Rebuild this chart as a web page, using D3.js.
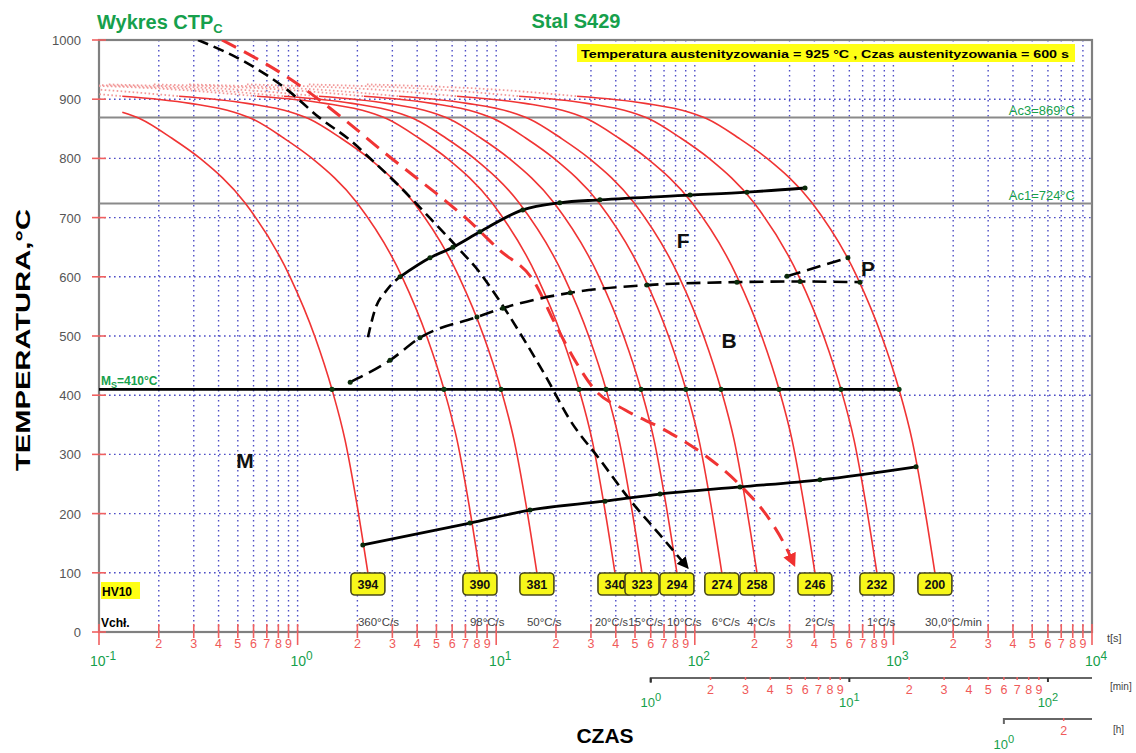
<!DOCTYPE html>
<html><head><meta charset="utf-8">
<script src="https://cdn.jsdelivr.net/npm/d3@7"></script>
<style>
body{margin:0;background:#fff}
svg{display:block}
text{font-family:"Liberation Sans",Arial,sans-serif}
</style>
</head><body>
<svg id="c" width="1136" height="753"></svg>
<script>
// ---------------- DATA ----------------
// temperature levels (°C) at which each cooling curve's time (s) was read
const tempLevels = [925, 915, 905, 893, 878, 867, 834, 800, 725, 600, 498, 410, 324, 215, 100];
const curveTimes = [
  [null,null,null,null,0.131,0.161,0.233,0.323,0.543,0.916,1.225,1.489,1.734,1.991,2.259],
  [0.0114,0.0579,0.131,0.287,0.479,0.589,0.855,1.183,1.991,3.357,4.487,5.458,6.353,7.295,8.279],
  [0.0221,0.112,0.253,0.556,0.927,1.140,1.656,2.291,3.855,6.501,8.690,10.57,12.30,14.13,16.03],
  [0.0547,0.277,0.625,1.374,2.291,2.818,4.093,5.662,9.528,16.07,21.48,26.12,30.41,34.91,39.63],
  [0.0748,0.379,0.855,1.879,3.133,3.855,5.598,7.745,13.03,21.98,29.38,35.73,41.59,47.75,54.20],
  [0.112,0.569,1.282,2.818,4.699,5.781,8.395,11.61,19.54,32.96,44.06,53.58,62.37,71.61,81.28],
  [0.189,0.957,2.158,4.742,7.907,9.727,14.13,19.54,32.89,55.46,74.13,90.16,105.0,120.5,136.8],
  [0.284,1.439,3.243,7.129,11.89,14.62,21.23,29.38,49.43,83.37,111.4,135.5,157.8,181.1,205.6],
  [0.556,2.818,6.353,13.96,23.28,28.64,41.59,57.54,96.83,163.3,218.3,265.5,309.0,354.8,402.7],
  [1.140,5.781,13.03,28.64,47.75,58.75,85.31,118.0,198.6,335.0,447.7,544.5,633.9,727.8,826.0],
  [2.234,11.32,25.53,56.10,93.54,115.1,167.1,231.2,389.0,656.1,877.0,1067,1242,1426,1618]
];
const hardnessHV10 = [394, 390, 381, 340, 323, 294, 274, 258, 246, 232, 200];
const coolingRates = ["360°C/s","98°C/s","50°C/s","20°C/s","15°C/s","10°C/s","6°C/s","4°C/s","2°C/s","1°C/s","30,0°C/min"];

const Ac3 = 869, Ac1 = 724, Ms = 410;

// transformation lines [time s, temp °C]
const ferriteArc   = [[2.26,498],[2.45,544],[2.82,578],[3.28,600]];
const ferriteStart = [[3.28,600],[4.64,632],[6.05,650],[8.28,676],[13.6,713],[20.9,725],[33.3,730],[94.6,738],[183,743],[359,750]];
const bainiteStart = [[1.84,422],[2.92,459],[4.13,497],[8.00,532],[10.8,547],[23.6,573],[57.4,586],[163,591],[339,592],[679,591]];
const pearliteStart = [[291,601],[590,632]];
const lowerLine    = [[2.13,147],[7.38,184],[14.8,206],[35.3,221],[66.8,233],[169,245],[427,257],[1300,279]];
const criticalBlack = [[0.315,1000],[0.543,963],[0.864,919],[1.297,868],[1.836,831],[2.370,797],[3.278,752],[4.642,699],[6.573,645],[8.099,611],[10.09,566],[13.18,505],[17.61,434],[23.53,358],[33.32,291],[47.18,223],[66.8,164],[92.4,108]];
const criticalRed   = [[0.416,1000],[0.938,932],[1.73,865],[2.75,809],[3.90,769],[5.71,725],[7.21,696],[10.4,645],[15.3,595],[20.2,515],[24.9,459],[31.4,409],[44.6,375],[70.8,341],[112,299],[169,248],[239,189],[284,147],[318,112]];

const phaseLabels = [["F",87.3,649],["B",148.6,480],["P",745,601],["M",0.543,277]];
const tempTicks = [0,100,200,300,400,500,600,700,800,900,1000];
const minuteDecades = [1,10,100];
const hourDecades = [1];

// ---------------- SCALES ----------------
const x = d3.scaleLog().domain([0.1, 1e4]).range([99, 1092]);
const y = d3.scaleLinear().domain([0, 1000]).range([632, 40]);
const svg = d3.select("#c");
const defs = svg.append("defs");
defs.append("clipPath").attr("id","pc").append("rect")
  .attr("x",99).attr("y",40).attr("width",993).attr("height",592);
function marker(id, color){
  defs.append("marker").attr("id",id).attr("viewBox","0 0 10 10")
    .attr("refX",9).attr("refY",5).attr("markerWidth",4.5).attr("markerHeight",4.5)
    .attr("orient","auto").append("path").attr("d","M0,0L10,5L0,10z").attr("fill",color);
}
marker("arrK","#000"); marker("arrR","#f03030");

const GREEN = "#16a04c", RED = "#f03434", GRID = "#4d4dc6", GRAY = "#808080";
const line = d3.line().x(d=>x(d[0])).y(d=>y(d[1])).curve(d3.curveMonotoneX);
const linLine = d3.line().x(d=>x(d[0])).y(d=>y(d[1]));

// ---------------- GRID ----------------
const logTicks = [];
for (let d=-1; d<=3; d++) for (let k=1; k<=9; k++) logTicks.push(k*Math.pow(10,d));
logTicks.push(1e4);
const isDecade = d => Math.abs(Math.log10(d)-Math.round(Math.log10(d)))<1e-9;
const g = svg.append("g");
g.selectAll("line.vg").data(logTicks.filter(t=>t>0.1 && t<1e4)).join("line")
  .attr("x1",d=>x(d)).attr("x2",d=>x(d)).attr("y1",y(1000)).attr("y2",y(0))
  .attr("stroke",GRID).attr("stroke-width",1.4).attr("stroke-dasharray","1.6,3.4");
g.selectAll("line.hg").data(tempTicks.filter(t=>t>0 && t<1000)).join("line")
  .attr("x1",x(0.1)).attr("x2",x(1e4)).attr("y1",d=>y(d)).attr("y2",d=>y(d))
  .attr("stroke",GRID).attr("stroke-width",1.4).attr("stroke-dasharray","1.6,3.4");

svg.append("rect").attr("x",99).attr("y",40).attr("width",993).attr("height",592)
  .attr("fill","none").attr("stroke",GRAY).attr("stroke-width",2.2);

[Ac3, Ac1].forEach(v=>{
  svg.append("line").attr("x1",x(0.1)).attr("x2",x(1e4)).attr("y1",y(v)).attr("y2",y(v))
    .attr("stroke","#8a8a8a").attr("stroke-width",2);
});
svg.append("text").attr("x",x(8200)).attr("y",y(Ac3)-3).attr("text-anchor","end")
  .attr("fill",GREEN).attr("font-size",12).attr("textLength",66).attr("lengthAdjust","spacingAndGlyphs")
  .text("Ac3="+Ac3+"°C");
svg.append("text").attr("x",x(8200)).attr("y",y(Ac1)-3).attr("text-anchor","end")
  .attr("fill",GREEN).attr("font-size",12).attr("textLength",66).attr("lengthAdjust","spacingAndGlyphs")
  .text("Ac1="+Ac1+"°C");

// ---------------- AXES ----------------
svg.selectAll("line.yt").data(tempTicks).join("line")
  .attr("x1",92).attr("x2",106).attr("y1",d=>y(d)).attr("y2",d=>y(d))
  .attr("stroke","#f06060").attr("stroke-width",1.6);
svg.selectAll("text.yl").data(tempTicks).join("text")
  .attr("x",81).attr("y",d=>y(d)+5).attr("text-anchor","end")
  .attr("font-size",13).attr("fill","#555").text(d=>d);

svg.selectAll("line.xt").data(logTicks).join("line")
  .attr("x1",d=>x(d)).attr("x2",d=>x(d)).attr("y1",624)
  .attr("y2",d=>isDecade(d)?645:638)
  .attr("stroke","#f06060").attr("stroke-width",1.6);
svg.selectAll("text.xd").data(logTicks.filter(d=>!isDecade(d))).join("text")
  .attr("x",d=>x(d)).attr("y",648).attr("text-anchor","middle")
  .attr("font-size",12.5).attr("fill","#f05a5a")
  .text(d=>Math.round(d/Math.pow(10,Math.floor(Math.log10(d)+1e-9))));
function decadeLabel(px, py, exp, size){
  const t = svg.append("text").attr("x",px).attr("y",py).attr("text-anchor","middle")
    .attr("fill",GREEN).attr("font-size",size);
  t.append("tspan").text("10");
  t.append("tspan").attr("dy",-6).attr("font-size",size*0.85).text(exp);
}
[-1,0,1,2,3,4].forEach(e=>decadeLabel(x(Math.pow(10,e))+4, 666, e, 14));
svg.append("text").attr("x",1107).attr("y",642).attr("font-size",11).attr("fill","#444").text("t[s]");

const minY = 678;
svg.append("path").attr("d",`M${x(60)},${minY+5}V${minY}H${x(1e4)}`)
  .attr("fill","none").attr("stroke","#666").attr("stroke-width",2);
minuteDecades.forEach(m=>{
  svg.append("line").attr("x1",x(m*60)).attr("x2",x(m*60)).attr("y1",minY).attr("y2",minY+4)
    .attr("stroke","#333").attr("stroke-width",2);
  decadeLabel(x(m*60), 707, Math.round(Math.log10(m)), 13);
  if (m < 100) for (let k=2;k<=9;k++){
    const v = k*m*60;
    svg.append("line").attr("x1",x(v)).attr("x2",x(v)).attr("y1",minY-1).attr("y2",minY+2)
      .attr("stroke","#f06060").attr("stroke-width",1.5);
    svg.append("text").attr("x",x(v)).attr("y",minY+16).attr("text-anchor","middle")
      .attr("font-size",12.5).attr("fill","#f05a5a").text(k);
  }
});
svg.append("text").attr("x",1110).attr("y",690).attr("font-size",10).attr("fill","#444").text("[min]");

const hY = 719;
svg.append("path").attr("d",`M${x(3600)},${hY+5}V${hY}H${x(1e4)}`)
  .attr("fill","none").attr("stroke","#666").attr("stroke-width",2);
hourDecades.forEach(h=>{
  decadeLabel(x(h*3600), 749, 0, 13);
  svg.append("line").attr("x1",x(2*h*3600)).attr("x2",x(2*h*3600)).attr("y1",hY-1).attr("y2",hY+2)
    .attr("stroke","#f06060").attr("stroke-width",1.5);
  svg.append("text").attr("x",x(2*h*3600)).attr("y",hY+16).attr("text-anchor","middle")
    .attr("font-size",12.5).attr("fill","#f05a5a").text(2);
});
svg.append("text").attr("x",1113).attr("y",733).attr("font-size",10).attr("fill","#444").text("[h]");

svg.append("text").attr("transform","translate(30,340) rotate(-90)").attr("text-anchor","middle")
  .attr("font-size",21).attr("font-weight","bold").attr("textLength",262).attr("lengthAdjust","spacingAndGlyphs")
  .text("TEMPERATURA,°C");
svg.append("text").attr("x",605).attr("y",743).attr("text-anchor","middle")
  .attr("font-size",21).attr("font-weight","bold").text("CZAS");

const tt = svg.append("text").attr("x",97).attr("y",29).attr("fill",GREEN)
  .attr("font-size",20).attr("font-weight","bold");
tt.append("tspan").text("Wykres CTP");
tt.append("tspan").attr("dy",4).attr("font-size",13).text("C");
svg.append("text").attr("x",576).attr("y",28).attr("text-anchor","middle").attr("fill",GREEN)
  .attr("font-size",20).attr("font-weight","bold").text("Stal S429");
svg.append("rect").attr("x",577).attr("y",44).attr("width",498).attr("height",18).attr("fill","#ffff14");
svg.append("text").attr("x",581).attr("y",57.5).attr("font-size",11.5).attr("font-weight","bold")
  .attr("textLength",488).attr("lengthAdjust","spacingAndGlyphs")
  .text("Temperatura austenityzowania = 925 °C , Czas austenityzowania = 600 s");

// ---------------- CURVES ----------------
const plot = svg.append("g").attr("clip-path","url(#pc)");
curveTimes.forEach((times)=>{
  const pts = tempLevels.map((T,i)=>[times[i],T]).filter(p=>p[0]!=null);
  const dotted = pts.filter(p=>p[1]>=905);
  const solid = pts.filter(p=>p[1]<=905);
  if (dotted.length>1) plot.append("path").attr("d",line(dotted)).attr("fill","none")
    .attr("stroke","#f29a9a").attr("stroke-width",1.8).attr("stroke-dasharray","1.6,2.4");
  plot.append("path").attr("d",line(solid)).attr("fill","none")
    .attr("stroke",RED).attr("stroke-width",1.6);
});

plot.append("path").attr("d",line(criticalRed)).attr("fill","none")
  .attr("stroke",RED).attr("stroke-width",3).attr("stroke-dasharray","16,9")
  .attr("marker-end","url(#arrR)");
plot.append("path").attr("d",line(criticalBlack)).attr("fill","none")
  .attr("stroke","#000").attr("stroke-width",2.6).attr("stroke-dasharray","11,6")
  .attr("marker-end","url(#arrK)");

const msEnd = curveTimes[curveTimes.length-1][tempLevels.indexOf(Ms)];
plot.append("path").attr("d",linLine([[0.1,Ms],[msEnd,Ms]])).attr("stroke","#000").attr("stroke-width",2.8);
svg.selectAll("circle.ms").data(curveTimes.map(c=>c[tempLevels.indexOf(Ms)])).join("circle")
  .attr("cx",d=>x(d)).attr("cy",y(Ms)).attr("r",2.6).attr("fill","#0b3b12");
const msl = svg.append("text").attr("x",101).attr("y",y(Ms)-4).attr("fill",GREEN)
  .attr("font-size",12).attr("font-weight","bold");
msl.append("tspan").text("M");
msl.append("tspan").attr("dy",3).attr("font-size",9).text("S");
msl.append("tspan").attr("dy",-3).text("="+Ms+"°C");

plot.append("path").attr("d",line(ferriteArc)).attr("fill","none")
  .attr("stroke","#000").attr("stroke-width",2.6).attr("stroke-dasharray","10,6");
plot.append("path").attr("d",line(ferriteStart)).attr("fill","none")
  .attr("stroke","#000").attr("stroke-width",2.8);
plot.append("path").attr("d",line(bainiteStart)).attr("fill","none")
  .attr("stroke","#000").attr("stroke-width",2.6).attr("stroke-dasharray","14,7");
plot.append("path").attr("d",line(pearliteStart)).attr("fill","none")
  .attr("stroke","#000").attr("stroke-width",2.6).attr("stroke-dasharray","14,7");
plot.append("path").attr("d",line(lowerLine)).attr("fill","none")
  .attr("stroke","#000").attr("stroke-width",2.8);

[ferriteStart, bainiteStart, pearliteStart, lowerLine].forEach(arr=>{
  svg.selectAll(null).data(arr).join("circle")
    .attr("cx",d=>x(d[0])).attr("cy",d=>y(d[1])).attr("r",2.5).attr("fill","#0b2b0b");
});

svg.selectAll("text.ph").data(phaseLabels).join("text")
  .attr("x",d=>x(d[1])).attr("y",d=>y(d[2])).attr("text-anchor","middle")
  .attr("font-size",21).attr("font-weight","bold").attr("fill","#111").text(d=>d[0]);

// ---------------- HARDNESS BOXES & RATES ----------------
const endTimes = curveTimes.map(c=>c[c.length-1]);
const boxes = svg.append("g");
const rateG = svg.append("g");
endTimes.forEach((t,i)=>{
  const cx = x(t);
  boxes.append("rect").attr("x",cx-17).attr("y",573).attr("width",34).attr("height",22).attr("rx",4)
    .attr("fill","#f7f71a").attr("stroke","#4a4a1a").attr("stroke-width",1.6);
  boxes.append("text").attr("x",cx).attr("y",589).attr("text-anchor","middle")
    .attr("font-size",12.5).attr("font-weight","bold").attr("fill","#111").text(hardnessHV10[i]);
  let fs = 11.5, sx = cx - 10;
  const tx = rateG.append("text").attr("x",sx).attr("y",626).attr("font-size",fs).attr("fill","#444")
    .text(coolingRates[i]);
  if (i < endTimes.length-1){
    const nextStart = x(endTimes[i+1]) - 10;
    let w = tx.node().getComputedTextLength();
    let room = nextStart - 4 - sx;
    if (w > room){
      const shift = Math.min(w - room, 10);
      sx -= shift; room += shift;
      tx.attr("x", sx);
      if (w > room){ fs = fs * room / w; tx.attr("font-size", fs); }
    }
  }
});
svg.append("rect").attr("x",101).attr("y",582).attr("width",39).attr("height",17).attr("fill","#ffff14");
svg.append("text").attr("x",102).attr("y",596).attr("font-size",12).attr("font-weight","bold").text("HV10");
svg.append("text").attr("x",101).attr("y",627).attr("font-size",12).attr("font-weight","bold").text("Vchł.");
</script>
</body></html>
